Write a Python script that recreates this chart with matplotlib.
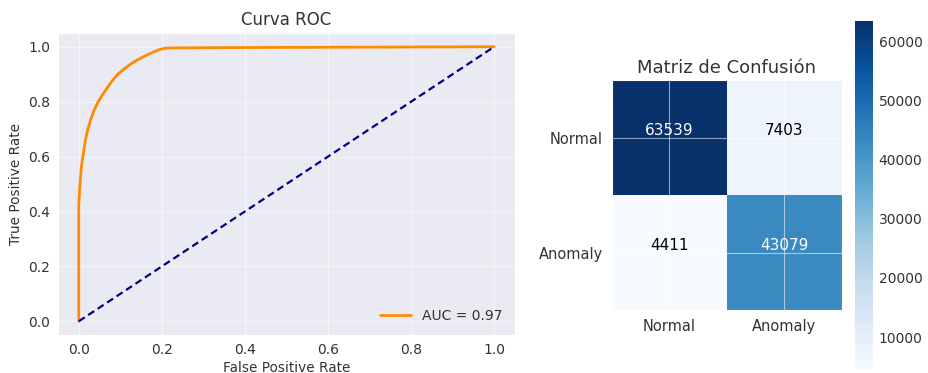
import numpy as np
import matplotlib
matplotlib.use("Agg")
import matplotlib.pyplot as plt
import seaborn as sns

sns.set_style("darkgrid")
plt.rcParams['font.family'] = ['DejaVu Sans']
plt.rcParams['grid.alpha'] = 0.55
plt.rcParams['grid.linewidth'] = 0.8

# ROC curve data
fpr = [0.0, 0.0, 0.001, 0.002, 0.004, 0.006, 0.009, 0.012, 0.016, 0.022, 0.029,
       0.036, 0.045, 0.055, 0.066, 0.08, 0.094, 0.11, 0.125, 0.14, 0.16, 0.18,
       0.195, 0.21, 0.25, 0.4, 0.6, 0.8, 1.0]
tpr = [0.0, 0.42, 0.45, 0.48, 0.52, 0.56, 0.59, 0.62, 0.66, 0.70, 0.735,
       0.765, 0.795, 0.82, 0.845, 0.875, 0.9, 0.92, 0.937, 0.951, 0.967, 0.981,
       0.99, 0.995, 0.996, 0.997, 0.998, 0.999, 1.0]
auc_value = 0.97

# Confusion matrix
classes = ["Normal", "Anomaly"]
cm = np.array([[63539, 7403],
               [4411, 43079]])
cbar_ticks = [10000, 20000, 30000, 40000, 50000, 60000]

W, H = 929, 373
fig = plt.figure(figsize=(W / 100, H / 100), dpi=100)
txt = "#333333"

# ---- ROC ----
ax1 = fig.add_axes([58 / W, (H - 335) / H, 457 / W, 302 / H])
ax1.plot(fpr, tpr, color="darkorange", lw=2, label=f"AUC = {auc_value:.2f}")
ax1.plot([0, 1], [0, 1], color="navy", lw=1.6, linestyle="--", dashes=(3.2, 1.9))
ax1.set_xlim(-0.05, 1.05)
ax1.set_ylim(-0.05, 1.05)
ax1.set_xticks([0, 0.2, 0.4, 0.6, 0.8, 1.0])
ax1.set_yticks([0, 0.2, 0.4, 0.6, 0.8, 1.0])
ax1.tick_params(labelsize=10, colors=txt, pad=2)
ax1.set_xlabel("False Positive Rate", fontsize=9.8, color=txt, labelpad=3)
ax1.set_ylabel("True Positive Rate", fontsize=9.8, color=txt, labelpad=4)
ax1.set_title("Curva ROC", fontsize=12, color=txt, pad=6)
leg = ax1.legend(loc="lower right", fontsize=10, frameon=False, handlelength=2.2)
for t in leg.get_texts():
    t.set_color(txt)

# ---- Confusion matrix ----
ax2 = fig.add_axes([612 / W, (H - 310) / H, 230 / W, 230 / H])
im = ax2.imshow(cm, interpolation="nearest", cmap=plt.cm.Blues)
ax2.set_title("Matriz de Confusión", fontsize=13, color=txt, pad=5)
ax2.set_xticks(range(len(classes)))
ax2.set_xticklabels(classes)
ax2.set_yticks(range(len(classes)))
ax2.set_yticklabels(classes)
ax2.tick_params(labelsize=10.5, colors=txt, pad=3)
thresh = cm.max() / 2.0
for i in range(cm.shape[0]):
    for j in range(cm.shape[1]):
        ax2.text(j, i, format(cm[i, j], "d"), ha="center", va="bottom",
                 fontsize=11, color="white" if cm[i, j] > thresh else "black")

cax = fig.add_axes([855 / W, (H - 370) / H, 18 / W, 349 / H])
cb = fig.colorbar(im, cax=cax, ticks=cbar_ticks)
cb.outline.set_visible(False)
cax.tick_params(labelsize=10, colors=txt, length=0, pad=4)

fig.savefig("out.png", dpi=100)
